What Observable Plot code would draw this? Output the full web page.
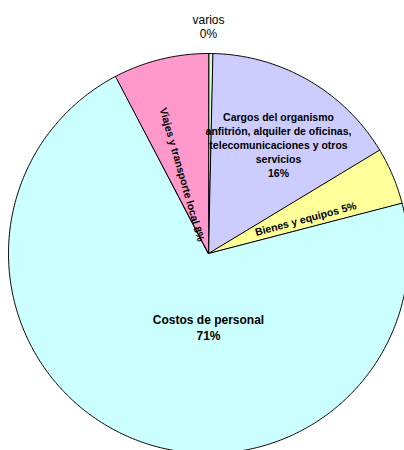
<!DOCTYPE html>
<html><head><meta charset="utf-8">
<script src="https://cdn.jsdelivr.net/npm/d3@7"></script>
<script src="https://cdn.jsdelivr.net/npm/@observablehq/plot@0.6"></script>
<style>body{margin:0;background:#fff;}</style>
</head><body><div id="chart"></div>
<script>
// ---- data ----
const categories = ["varios", "Cargos del organismo anfitrión, alquiler de oficinas, telecomunicaciones y otros servicios", "Bienes y equipos", "Costos de personal", "Viajes y transporte local"];
const values = [0.35, 16.0, 4.6, 71.35, 7.7];
const percentLabels = ["0%", "16%", "5%", "71%", "8%"];
const labelLines = [
  "varios\n0%",
  "Cargos del organismo\nanfitrión, alquiler de oficinas,\ntelecomunicaciones y otros\nservicios\n16%",
  "Bienes y equipos 5%",
  "Costos de personal\n71%",
  "Viajes y transporte local 8%"
];
const colors = ["#ccffcc", "#ccccff", "#ffff99", "#ccffff", "#ff99cc"];

// ---- layout (label placement, in pie-radius units) ----
const labelLayout = [
  {angle: 0,     r: 1.135, rotate: 0,   size: 12,   weight: "normal", lh: 1.17},
  {angle: 32.7,  r: 0.648, rotate: 0,   size: 10.5, weight: "bold",   lh: 1.33},
  {angle: 70.2,  r: 0.516, rotate: -15, size: 10.5, weight: "bold",   lh: 1.2},
  {angle: 180,   r: 0.365, rotate: 0,   size: 12,   weight: "bold",   lh: 1.33},
  {angle: -18.2, r: 0.416, rotate: 74,  size: 10.5, weight: "bold",   lh: 1.2}
];

const arcs = d3.pie().sort(null).value(d => d)(values);
const pts = [];
arcs.forEach((p, i) => {
  pts.push({cat: categories[i], x: 0, y: 0});
  const n = Math.max(2, Math.ceil((p.endAngle - p.startAngle) / (Math.PI / 360)));
  for (let k = 0; k <= n; k++) {
    const a = p.startAngle + (p.endAngle - p.startAngle) * k / n;
    pts.push({cat: categories[i], x: Math.sin(a), y: Math.cos(a)});
  }
});

const font = "Liberation Sans, Arial, sans-serif";
const textMarks = labelLines.map((t, i) => {
  const L = labelLayout[i];
  const a = L.angle * Math.PI / 180;
  return Plot.text([{t, x: Math.sin(a) * L.r, y: Math.cos(a) * L.r}], {
    x: "x", y: "y", text: "t", fontSize: L.size, fontWeight: L.weight,
    fontFamily: font, rotate: L.rotate, lineHeight: L.lh, lineAnchor: "middle",
    textAnchor: "middle", fill: "black"
  });
});

const chart = Plot.plot({
  width: 404, height: 450,
  margin: 0,
  x: {domain: [-1, 1], range: [8, 408], axis: null},
  y: {domain: [-1, 1], range: [453, 53], axis: null},
  color: {domain: categories, range: colors},
  style: {fontFamily: font, background: "white"},
  marks: [
    Plot.line(pts, {x: "x", y: "y", z: "cat", fill: "cat", stroke: "black", strokeWidth: 1, curve: "linear-closed"}),
    ...textMarks
  ]
});
document.getElementById("chart").appendChild(chart);
</script>
</body></html>
